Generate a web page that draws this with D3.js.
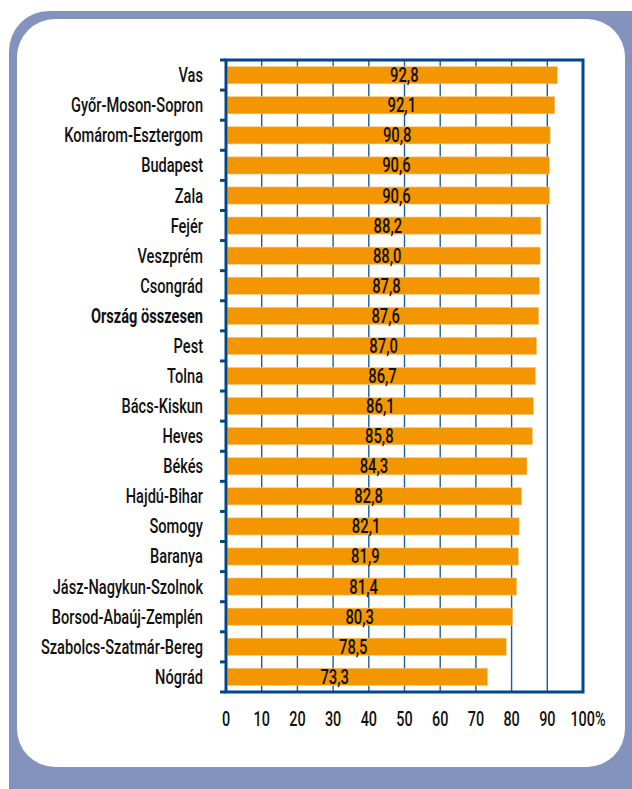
<!DOCTYPE html>
<html>
<head>
<meta charset="utf-8">
<script src="https://cdn.jsdelivr.net/npm/d3@7"></script>
<style>
  html, body { margin: 0; padding: 0; background: #ffffff; }
  svg { display: block; }
  text { font-family: Roboto, "Noto Sans", "DejaVu Sans", sans-serif; fill: #111; }
</style>
</head>
<body>
<svg id="chart" width="632" height="789"></svg>
<script>
// Share of households (%) per county, sorted descending
const counties = [
  "Vas", "Győr-Moson-Sopron", "Komárom-Esztergom", "Budapest", "Zala",
  "Fejér", "Veszprém", "Csongrád", "Ország összesen", "Pest", "Tolna",
  "Bács-Kiskun", "Heves", "Békés", "Hajdú-Bihar", "Somogy", "Baranya",
  "Jász-Nagykun-Szolnok", "Borsod-Abaúj-Zemplén", "Szabolcs-Szatmár-Bereg", "Nógrád"
];
const values = [
  92.8, 92.1, 90.8, 90.6, 90.6,
  88.2, 88.0, 87.8, 87.6, 87.0, 86.7,
  86.1, 85.8, 84.3, 82.8, 82.1, 81.9,
  81.4, 80.3, 78.5, 73.3
];
const totalLabel = "Ország összesen";
const xTicks = [0, 10, 20, 30, 40, 50, 60, 70, 80, 90, 100];

const data = counties.map((c, i) => ({ name: c, value: values[i] }));

const svg = d3.select("#chart");

// Card background with offset shadow border
svg.append("rect")
  .attr("x", 9).attr("y", 11).attr("width", 660).attr("height", 820)
  .attr("rx", 40).attr("fill", "#8492be");
svg.append("rect")
  .attr("x", 17).attr("y", 19).attr("width", 608).attr("height", 748)
  .attr("rx", 38).attr("fill", "#ffffff");

const plot = { left: 226, right: 583, top: 60, bottom: 692 };
const frameColor = "#00488c";
const gridColor = "#1d5d9e";
const barColor = "#f39600";

const x = d3.scaleLinear().domain([0, 100]).range([plot.left, plot.right]);
const y = d3.scaleBand().domain(counties).range([plot.top, plot.bottom]).paddingInner(0.43).paddingOuter(0.22);
const rowStep = (plot.bottom - plot.top) / counties.length;

// vertical gridlines
svg.append("g").selectAll("line")
  .data(xTicks.filter(t => t > 0 && t < 100))
  .join("line")
  .attr("x1", d => x(d)).attr("x2", d => x(d))
  .attr("y1", plot.top).attr("y2", plot.bottom)
  .attr("stroke", gridColor).attr("stroke-width", 1.4);

// bars
svg.append("g").selectAll("rect")
  .data(data)
  .join("rect")
  .attr("x", x(0) + 1.5)
  .attr("y", d => y(d.name))
  .attr("width", d => x(d.value) - x(0) - 1.5)
  .attr("height", y.bandwidth())
  .attr("fill", barColor)
  .attr("stroke", "#f8c880").attr("stroke-width", 0.6);

// plot frame
svg.append("rect")
  .attr("x", plot.left).attr("y", plot.top)
  .attr("width", plot.right - plot.left).attr("height", plot.bottom - plot.top)
  .attr("fill", "none").attr("stroke", frameColor).attr("stroke-width", 3);

// left category ticks at row boundaries
svg.append("g").selectAll("line")
  .data(d3.range(counties.length + 1))
  .join("line")
  .attr("x1", plot.left - 6).attr("x2", plot.left)
  .attr("y1", k => plot.top + k * rowStep).attr("y2", k => plot.top + k * rowStep)
  .attr("stroke", frameColor).attr("stroke-width", 3);

// condensed lettering: squeeze each label horizontally around its anchor
function squeezed(sel, px, py, s) {
  return sel.attr("transform", `translate(${px},${py}) scale(${s},1)`);
}

// category labels
svg.append("g").selectAll("text")
  .data(data)
  .join("text")
  .each(function(d) {
    squeezed(d3.select(this), 203, y(d.name) + y.bandwidth() / 2 + 7, 0.73);
  })
  .attr("text-anchor", "end")
  .attr("font-size", 20)
  .attr("font-weight", d => d.name === totalLabel ? 700 : 500)
  .text(d => d.name);

// value labels inside bars
svg.append("g").selectAll("text")
  .data(data)
  .join("text")
  .each(function(d) {
    squeezed(d3.select(this), x(d.value) - 153, y(d.name) + y.bandwidth() / 2 + 7, 0.74);
  })
  .attr("text-anchor", "middle")
  .attr("font-size", 20)
  .attr("font-weight", 500)
  .text(d => d3.format(".1f")(d.value).replace(".", ","));

// x tick labels
svg.append("g").selectAll("text")
  .data(xTicks)
  .join("text")
  .each(function(d) {
    squeezed(d3.select(this), x(d) + (d === 100 ? 5 : 0), 726, 0.72);
  })
  .attr("text-anchor", "middle")
  .attr("font-size", 20)
  .attr("font-weight", 500)
  .text(d => d === 100 ? "100%" : d);
</script>
</body>
</html>
